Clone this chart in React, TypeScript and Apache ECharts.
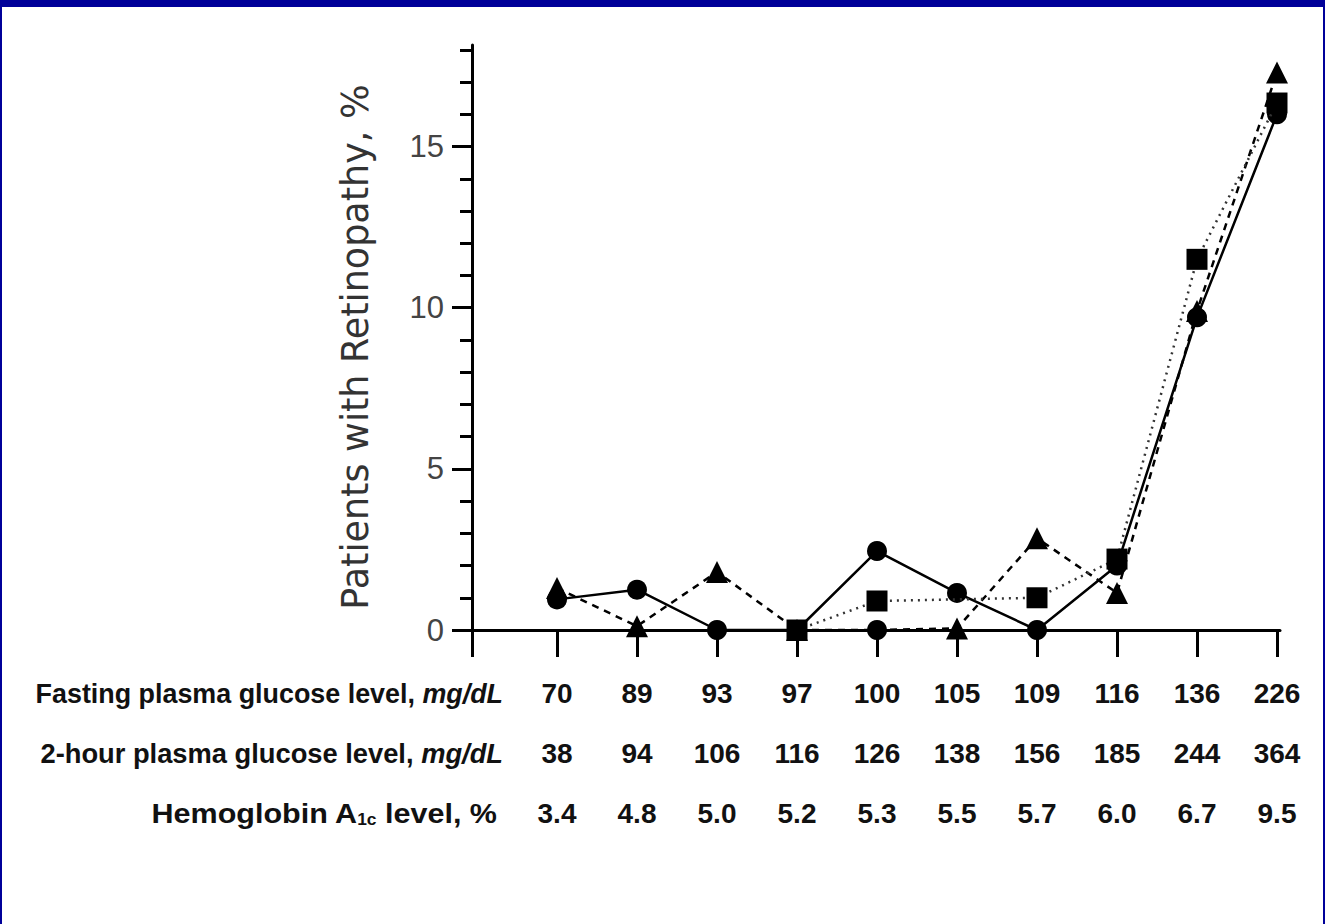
import React, { useEffect, useRef } from "react";
import * as echarts from "echarts";

const catIndex = [0, 1, 2, 3, 4, 5, 6, 7, 8, 9];
const fastingGlucose = ["70", "89", "93", "97", "100", "105", "109", "116", "136", "226"];
const twoHourGlucose = ["38", "94", "106", "116", "126", "138", "156", "185", "244", "364"];
const hba1c = ["3.4", "4.8", "5.0", "5.2", "5.3", "5.5", "5.7", "6.0", "6.7", "9.5"];

const circleSeries = [0.95, 1.25, 0, 0, 2.45, 1.15, 0, 2.0, 9.7, 16.0];
const triangleSeries = [1.3, 0.12, 1.8, 0, 0, 0.05, 2.85, 1.15, 9.9, 17.3];
const squareSeries = [null, null, null, 0, 0.9, null, 1.0, 2.2, 11.5, 16.35];

const yMajorTicks = [0, 5, 10, 15];
const yMinorTicks = [1, 2, 3, 4, 6, 7, 8, 9, 11, 12, 13, 14, 16, 17, 18];

const SANS = "'Liberation Sans', Arial, sans-serif";
const BLUE = "#000099";

export default function App() {
  const ref = useRef<HTMLDivElement>(null);
  useEffect(() => {
    if (!ref.current) return;
    const chart = echarts.init(ref.current, null, { renderer: "svg" });
    const xMin = -1.0625;
    const xMax = 9.0375;
    const labelStyle = {
      fontFamily: SANS,
      fontWeight: "bold",
      fontSize: 28,
      fill: "#111",
    };
    const rowLabel = (text: string, x: number, y: number, sx: number) => ({
      type: "text",
      x,
      y,
      scaleX: sx,
      style: {
        text,
        align: "right",
        verticalAlign: "middle",
        rich: {
          n: { ...labelStyle },
          i: { ...labelStyle, fontStyle: "italic" },
          s: { ...labelStyle, fontSize: 16, padding: [14, 0, 0, 0] },
        },
      },
    });
    chart.setOption({
      animation: false,
      backgroundColor: "#ffffff",
      grid: { left: 472, right: 45, top: 45, bottom: 294, containLabel: false },
      xAxis: {
        type: "value",
        min: xMin,
        max: xMax,
        splitLine: { show: false },
        axisLine: { show: true, onZero: false, lineStyle: { color: "#000", width: 3 } },
        axisTick: {
          show: true,
          customValues: [xMin, ...catIndex],
          length: 27,
          inside: false,
          lineStyle: { color: "#000", width: 3 },
        },
        axisLabel: {
          show: true,
          customValues: catIndex,
          margin: 33,
          fontFamily: SANS,
          fontWeight: "bold",
          fontSize: 28,
          lineHeight: 60,
          color: "#111",
          formatter: (v: number) => {
            const i = Math.round(v);
            return `${fastingGlucose[i]}\n${twoHourGlucose[i]}\n${hba1c[i]}`;
          },
        },
      },
      yAxis: [
        {
          type: "value",
          min: 0,
          max: 18.15,
          splitLine: { show: false },
          axisLine: { show: true, onZero: false, lineStyle: { color: "#000", width: 3 } },
          axisTick: {
            show: true,
            customValues: yMajorTicks,
            length: 20,
            lineStyle: { color: "#000", width: 3 },
          },
          axisLabel: {
            show: true,
            customValues: yMajorTicks,
            margin: 28,
            fontFamily: SANS,
            fontSize: 31,
            color: "#444",
          },
        },
        {
          type: "value",
          min: 0,
          max: 18.15,
          position: "left",
          splitLine: { show: false },
          axisLine: { show: false, onZero: false },
          axisTick: {
            show: true,
            customValues: yMinorTicks,
            length: 12,
            lineStyle: { color: "#000", width: 3 },
          },
          axisLabel: { show: false },
        },
      ],
      series: [
        {
          type: "line",
          name: "Fasting",
          data: circleSeries.map((v, i) => [catIndex[i], v]),
          symbol: "circle",
          symbolSize: 20,
          lineStyle: { color: "#000", width: 2.5, type: "solid" },
          itemStyle: { color: "#000" },
          z: 3,
        },
        {
          type: "line",
          name: "HbA1c",
          data: triangleSeries.map((v, i) =>
            i === 4 ? { value: [catIndex[i], v], symbol: "circle", symbolSize: 20 } : [catIndex[i], v]
          ),
          symbol: "triangle",
          symbolSize: 22,
          lineStyle: { color: "#000", width: 2.5, type: [7, 6] },
          itemStyle: { color: "#000" },
          z: 4,
        },
        {
          type: "line",
          name: "2-hour",
          data: squareSeries.map((v, i) => [catIndex[i], v]),
          connectNulls: true,
          symbol: "rect",
          symbolSize: 21,
          lineStyle: { color: "#333", width: 2.5, type: [2, 5] },
          itemStyle: { color: "#000" },
          z: 5,
        },
      ],
      graphic: [
        { type: "rect", shape: { x: 0, y: 0, width: 1325, height: 7 }, style: { fill: BLUE } },
        { type: "rect", shape: { x: 0, y: 0, width: 2, height: 924 }, style: { fill: BLUE } },
        { type: "rect", shape: { x: 1323, y: 0, width: 2, height: 924 }, style: { fill: BLUE } },
        {
          type: "text",
          x: 355,
          y: 347,
          rotation: Math.PI / 2,
          style: {
            text: "Patients with Retinopathy, %",
            font: "36.5px 'DejaVu Sans', sans-serif",
            fill: "#333",
            align: "center",
            verticalAlign: "middle",
          },
        },
        rowLabel("{n|Fasting plasma glucose level, }{i|mg/dL}", 503, 693, 0.96),
        rowLabel("{n|2-hour plasma glucose level, }{i|mg/dL}", 503, 753, 0.975),
        rowLabel("{n|Hemoglobin A}{s|1c}{n| level, %}", 497, 813, 1.09),
      ],
    });
    return () => chart.dispose();
  }, []);
  return (
    <div
      ref={ref}
      style={{ position: "fixed", left: 0, top: 0, width: 1325, height: 924, background: "#fff" }}
    />
  );
}
